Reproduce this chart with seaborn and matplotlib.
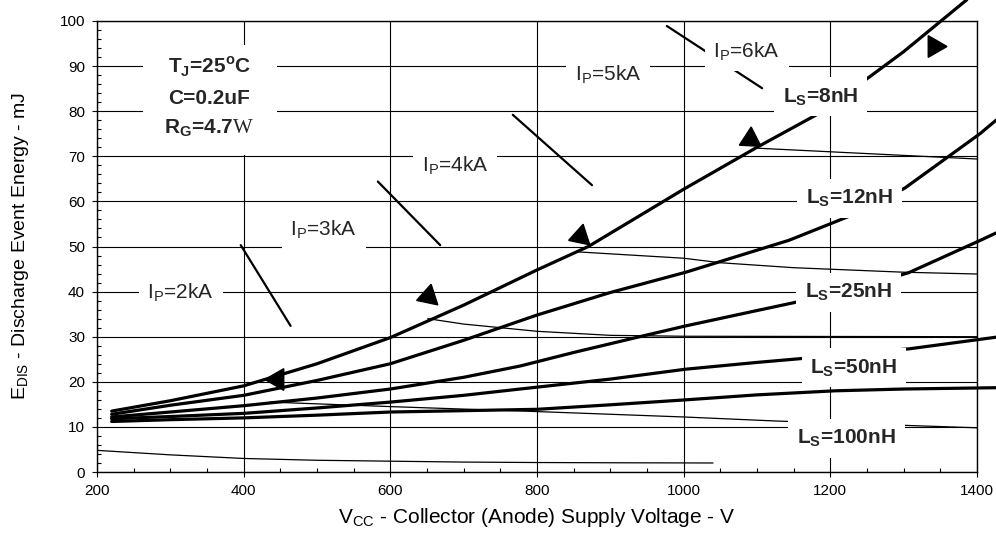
import matplotlib

matplotlib.use("Agg")

import matplotlib.pyplot as plt
import seaborn as sns
from matplotlib.patches import Rectangle
from matplotlib.ticker import MultipleLocator

# Ls curves: discharge energy vs supply voltage
V_8NH = [220, 300, 400, 500, 600, 700, 800, 870, 950, 1000, 1100, 1190, 1250, 1300, 1386]
E_8NH = [13.5, 15.8, 19.1, 24.0, 29.8, 37.0, 44.8, 50.0, 57.8, 62.7, 72.0, 80.0, 87.2, 93.2, 104.7]

V_12NH = [220, 300, 400, 500, 600, 700, 800, 900, 1003, 1144, 1241, 1302, 1404, 1426]
E_12NH = [12.8, 14.8, 17.0, 20.3, 24.0, 29.2, 34.8, 39.8, 44.3, 51.4, 57.7, 63.0, 75.0, 78.0]

V_25NH = [220, 300, 400, 500, 600, 700, 777, 850, 940, 1003, 1100, 1149, 1230, 1307, 1405, 1426]
E_25NH = [12.2, 13.3, 14.7, 16.4, 18.4, 21.0, 23.5, 26.5, 30.0, 32.4, 35.8, 37.5, 40.5, 44.2, 51.4, 53.0]

V_50NH = [220, 300, 400, 500, 600, 700, 777, 900, 1003, 1100, 1157, 1230, 1307, 1431]
E_50NH = [11.8, 12.3, 13.0, 14.2, 15.5, 17.0, 18.4, 20.6, 22.8, 24.3, 25.1, 26.3, 27.3, 30.0]

V_100NH = [220, 300, 400, 500, 600, 700, 800, 900, 1003, 1100, 1206, 1300, 1431]
E_100NH = [11.2, 11.6, 12.0, 12.6, 13.3, 13.6, 13.9, 14.9, 16.0, 17.1, 18.0, 18.4, 18.7]

# constant peak current loci (thin lines)
V_IP2 = [200, 300, 400, 500, 600, 700, 800, 900, 1040]
E_IP2 = [4.8, 3.8, 3.0, 2.6, 2.4, 2.2, 2.1, 2.05, 2.0]
V_IP3 = [436, 600, 800, 1000, 1127, 1309, 1400]
E_IP3 = [15.5, 14.5, 13.4, 12.2, 11.3, 10.3, 9.8]
V_IP4 = [651, 700, 800, 900, 1000, 1400]
E_IP4 = [34.0, 32.8, 31.2, 30.3, 30.1, 30.0]
V_IP5 = [856, 1000, 1050, 1150, 1300, 1400]
E_IP5 = [48.8, 47.4, 46.4, 45.3, 44.3, 43.9]
V_IP6 = [1100, 1200, 1300, 1400]
E_IP6 = [71.8, 71.0, 70.2, 69.4]

# label pointer segments
PTR_V = [(396, 464), (583, 668), (767, 875), (977, 1107)]
PTR_E = [(50.3, 32.4), (64.4, 50.3), (79.2, 63.6), (98.9, 85.1)]

# arrow heads on the 8nH curve
TRI_V = [446, 651, 858, 1091, 1341]
TRI_E = [20.7, 39.0, 52.3, 73.9, 94.4]
TRI_ROT = [-30, -12, -12, -3, -90]

IP_TEXT = ["2kA", "3kA", "4kA", "5kA", "6kA"]
IP_V = [314, 509, 688, 897, 1086]
IP_E = [39.8, 53.8, 67.9, 88.1, 93.3]

LS_TEXT = ["8nH", "12nH", "25nH", "50nH", "100nH"]
LS_V = [1187, 1226, 1225, 1232, 1222]
LS_E = [83.2, 60.7, 39.9, 23.1, 7.5]

COND_TEXT = [r"T$_{\mathbf{J}}$=25$^{\mathbf{o}}$C", "C=0.2uF", r"R$_{\mathbf{G}}$=4.7$\mathsf{W}$"]
COND_E = [89.9, 82.9, 76.3]

sns.set_theme(style="white")
plt.rcParams["font.family"] = ["Liberation Sans", "DejaVu Sans"]
plt.rcParams["mathtext.fontset"] = "custom"
plt.rcParams["mathtext.rm"] = "Liberation Sans"
plt.rcParams["mathtext.bf"] = "Liberation Sans:bold"
plt.rcParams["mathtext.sf"] = "Liberation Serif"

fig = plt.figure(figsize=(9.96, 5.37), dpi=100)
ax = fig.add_axes([97 / 996, 1 - 472 / 537, 880 / 996, 451 / 537])

ax.set_xlim(200, 1400)
ax.set_ylim(0, 100)
ax.xaxis.set_major_locator(MultipleLocator(200))
ax.xaxis.set_minor_locator(MultipleLocator(50))
ax.yaxis.set_major_locator(MultipleLocator(10))
ax.yaxis.set_minor_locator(MultipleLocator(2))
ax.grid(True, which="major", color="black", linewidth=0.8)
ax.tick_params(which="major", direction="out", length=3.6, width=0.8, color="black",
               labelsize=11, pad=5, bottom=True, left=True)
ax.tick_params(which="minor", direction="in", length=3, width=0.8, color="black",
               bottom=True, left=True)
for spine in ax.spines.values():
    spine.set_color("black")
    spine.set_linewidth(1.0)

# thin Ip loci
for xs, ys in [(V_IP2, E_IP2), (V_IP3, E_IP3), (V_IP4, E_IP4), (V_IP5, E_IP5), (V_IP6, E_IP6)]:
    sns.lineplot(x=xs, y=ys, ax=ax, color="black", linewidth=0.9, estimator=None,
                 sort=False, zorder=2)

# bold Ls curves
for xs, ys in [(V_8NH, E_8NH), (V_12NH, E_12NH), (V_25NH, E_25NH),
               (V_50NH, E_50NH), (V_100NH, E_100NH)]:
    sns.lineplot(x=xs, y=ys, ax=ax, color="black", linewidth=2.3, estimator=None,
                 sort=False, clip_on=False, zorder=3)

for xs, ys in zip(PTR_V, PTR_E):
    sns.lineplot(x=list(xs), y=list(ys), ax=ax, color="black", linewidth=1.6,
                 estimator=None, sort=False, zorder=3)

for xv, yv, rot in zip(TRI_V, TRI_E, TRI_ROT):
    ax.plot(xv, yv, marker=(3, 0, rot), markersize=18, color="black",
            linestyle="none", zorder=4)

box = dict(boxstyle="square,pad=0.42", facecolor="white", edgecolor="none")
for txt, xv, yv in zip(IP_TEXT, IP_V, IP_E):
    ax.text(xv, yv, r"I$_{\mathrm{P}}$=" + txt, fontsize=15, ha="center", va="center",
            bbox=box, zorder=5)
for txt, xv, yv in zip(LS_TEXT, LS_V, LS_E):
    ax.text(xv, yv, r"L$_{\mathbf{S}}$=" + txt, fontsize=15, fontweight="bold",
            ha="center", va="center", bbox=box, zorder=5)

ax.add_patch(Rectangle((262.7, 70.3), 182.7, 24.4, facecolor="white", edgecolor="none",
                       zorder=4.5))
for txt, yv in zip(COND_TEXT, COND_E):
    ax.text(353, yv, txt, fontsize=15, fontweight="bold", ha="center", va="center",
            zorder=5)

ax.set_xlabel(r"V$_{\mathrm{CC}}$ - Collector (Anode) Supply Voltage - V", fontsize=15,
              color="black")
ax.set_ylabel(r"E$_{\mathrm{DIS}}$ - Discharge Event Energy - mJ", fontsize=14,
              color="black")
ax.xaxis.set_label_coords(0.5, -0.075)
ax.yaxis.set_label_coords(-0.075, 0.5)
for lab in ax.get_xticklabels() + ax.get_yticklabels():
    lab.set_color("black")

fig.savefig("out.png", dpi=100, facecolor="white")
